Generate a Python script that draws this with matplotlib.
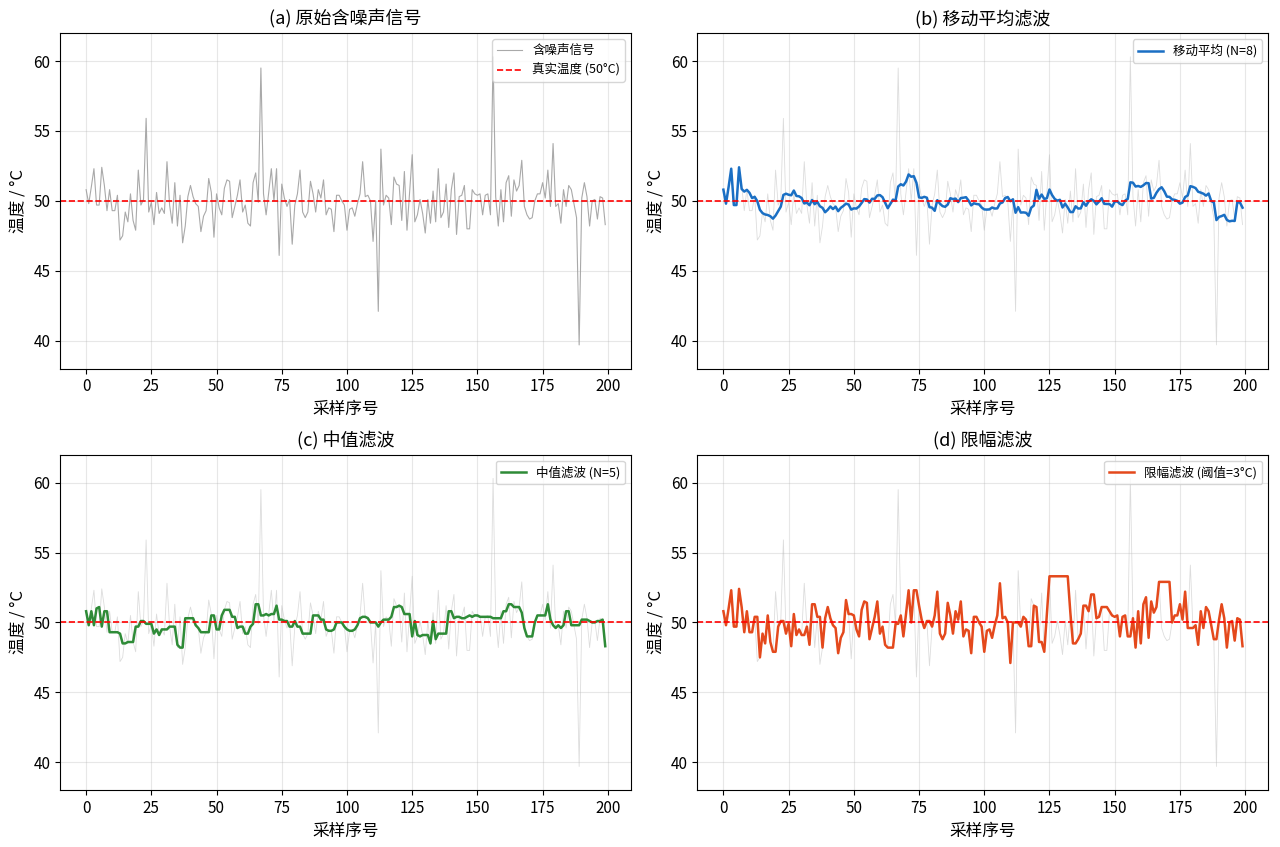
import matplotlib
matplotlib.use("Agg")
import matplotlib.pyplot as plt
import numpy as np

plt.rcParams['font.family'] = ['Noto Sans CJK SC', 'DejaVu Sans']
plt.rcParams['axes.unicode_minus'] = False

# 原始含噪声采样值
noisy = [
    50.8, 49.8, 51.0, 52.3, 49.7, 49.7, 52.4, 51.1, 49.3, 50.8,
    49.3, 49.3, 50.4, 47.2, 47.5, 49.2, 48.5, 50.5, 48.6, 47.9,
    52.2, 49.7, 50.1, 55.9, 49.2, 49.9, 48.3, 50.6, 49.1, 49.5,
    49.1, 52.8, 49.7, 48.4, 51.3, 48.2, 50.4, 47.0, 48.2, 50.3,
    51.1, 50.3, 49.8, 49.6, 47.8, 48.9, 49.3, 51.6, 50.6, 47.4,
    50.5, 49.5, 49.0, 50.9, 51.5, 51.4, 48.8, 49.6, 50.4, 51.5,
    49.2, 49.7, 48.4, 48.2, 51.3, 52.0, 49.9, 59.5, 50.5, 49.0,
    50.6, 52.3, 50.0, 52.3, 46.1, 51.2, 50.2, 49.6, 50.1, 46.9,
    49.7, 50.5, 52.2, 49.2, 48.8, 49.2, 51.4, 50.5, 49.2, 50.8,
    50.2, 51.5, 49.0, 49.5, 49.4, 47.8, 50.4, 50.4, 50.0, 49.7,
    47.9, 49.4, 49.5, 48.9, 49.8, 50.5, 52.8, 50.3, 50.4, 50.0,
    47.1, 50.0, 42.1, 53.7, 49.7, 50.4, 50.2, 48.3, 51.7, 51.2,
    51.1, 48.6, 52.1, 47.9, 50.6, 53.3, 48.5, 49.0, 50.1, 49.1,
    47.7, 50.1, 48.4, 50.7, 48.5, 52.3, 48.8, 49.2, 51.2, 48.1,
    50.8, 52.0, 47.6, 50.3, 50.4, 51.1, 48.0, 48.0, 50.8, 50.5,
    50.4, 50.5, 49.0, 50.4, 50.5, 49.0, 60.3, 50.3, 48.2, 50.8,
    48.5, 51.3, 51.8, 48.9, 51.5, 50.7, 51.1, 52.9, 49.6, 49.0,
    48.7, 48.8, 50.0, 50.5, 50.5, 51.3, 50.2, 52.2, 49.6, 54.1,
    49.6, 49.8, 48.4, 50.8, 49.6, 51.1, 50.8, 49.8, 48.8, 39.7,
    50.2, 51.3, 50.3, 48.2, 50.0, 50.1, 48.7, 50.3, 50.2, 48.3,
]
true_temp = 50.0
ma_n = 8
med_n = 5
limit_th = 3.0

x = np.arange(len(noisy))
raw = np.array(noisy)

# 移动平均: 前 N-1 个点保持原值
ma = raw.copy()
ma[ma_n - 1:] = np.convolve(raw, np.ones(ma_n) / ma_n, mode='valid')

# 中值滤波: 居中窗口, 边缘保持原值
med = raw.copy()
h = med_n // 2
for i in range(h, len(raw) - h):
    med[i] = np.median(raw[i - h:i + h + 1])

# 限幅滤波
lim = raw.copy()
for i in range(1, len(raw)):
    if abs(raw[i] - lim[i - 1]) > limit_th + 1e-9:
        lim[i] = lim[i - 1]
    else:
        lim[i] = raw[i]

fig, axes = plt.subplots(2, 2, figsize=(12.8, 8.47), dpi=100)
ax_a, ax_b, ax_c, ax_d = axes.ravel()

ax_a.plot(x, raw, color='#a0a0a0', lw=0.8, alpha=0.9, label='含噪声信号')
ax_a.axhline(true_temp, color='red', ls='--', lw=1.2, label='真实温度 (50°C)')
ax_a.set_title('(a) 原始含噪声信号', fontsize=13)

ax_b.plot(x, raw, color='#bbbbbb', lw=0.6, alpha=0.5)
ax_b.plot(x, ma, color='#1a6fc4', lw=1.8, label='移动平均 (N=8)')
ax_b.set_title('(b) 移动平均滤波', fontsize=13)

ax_c.plot(x, raw, color='#bbbbbb', lw=0.6, alpha=0.5)
ax_c.plot(x, med, color='#2e8b37', lw=1.8, label='中值滤波 (N=5)')
ax_c.set_title('(c) 中值滤波', fontsize=13)

ax_d.plot(x, raw, color='#bbbbbb', lw=0.6, alpha=0.5)
ax_d.plot(x, lim, color='#e4491c', lw=1.8, label='限幅滤波 (阈值=3°C)')
ax_d.set_title('(d) 限幅滤波', fontsize=13)

for ax in (ax_b, ax_c, ax_d):
    ax.axhline(true_temp, color='red', ls='--', lw=1.2)

for ax in axes.ravel():
    ax.set_ylim(38, 62)
    ax.set_xlabel('采样序号', fontsize=12)
    ax.set_ylabel('温度 / °C', fontsize=12)
    ax.tick_params(labelsize=11)
    ax.grid(True, alpha=0.3)
    ax.legend(loc='upper right', fontsize=9)

plt.subplots_adjust(left=0.047, right=0.991, top=0.961, bottom=0.067,
                    wspace=0.116, hspace=0.256)
plt.savefig('out.png')
